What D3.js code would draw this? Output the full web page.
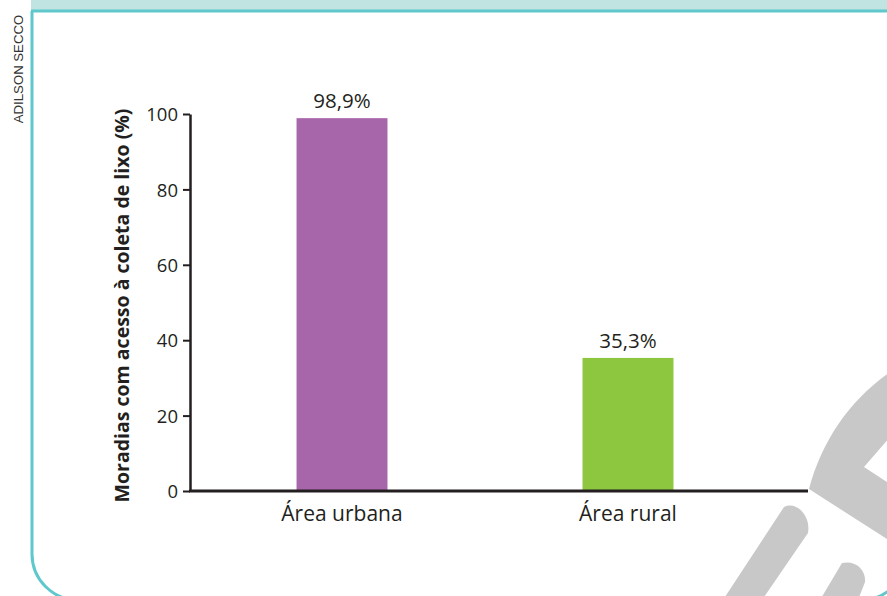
<!DOCTYPE html>
<html>
<head>
<meta charset="utf-8">
<script src="https://cdn.jsdelivr.net/npm/d3@7"></script>
<style>
  body { margin: 0; background: #fff; }
  svg { display: block; }
  text { font-family: "Open Sans", "Noto Sans", sans-serif; fill: #231f20; }
</style>
</head>
<body>
<div id="chart"></div>
<script>
const categories = ['Área urbana', 'Área rural']
const values = [98.9, 35.3]
const valueLabels = ['98,9%', '35,3%']
const barColors = ['#a866aa', '#8dc63f']
const yTicks = [0, 20, 40, 60, 80, 100]
const yTitle = 'Moradias com acesso à coleta de lixo (%)'
const credit = 'ADILSON SECCO'

const width = 887
const height = 596
const margin = {top: 114, left: 190, right: 79, bottom: 105}
const plotH = height - margin.top - margin.bottom

const svg = d3.select('#chart').append('svg')
  .attr('width', width)
  .attr('height', height)

// frame of the page
svg.append('rect')
  .attr('x', 31).attr('y', 0)
  .attr('width', width - 31).attr('height', 11)
  .style('fill', '#c0e4e1')
svg.append('path')
  .attr('d', 'M32,11 L32,554 A46,46 0 0 0 78,600 L861,600 A46,46 0 0 0 907,554 L907,11')
  .style('fill', 'none')
  .style('stroke', '#5ec8cc')
  .style('stroke-width', 3)
svg.append('line')
  .attr('x1', 31).attr('x2', width)
  .attr('y1', 11).attr('y2', 11)
  .style('stroke', '#5ec8cc')
  .style('stroke-width', 3)

// gray watermark in the corner
const wm = svg.append('g').style('fill', '#c8c8c8')
wm.append('path').attr('d', 'M809,489 C822,440 850,400 890,372 L890,437 L864,467 L890,484 L890,541 Z')
wm.append('path').attr('d', 'M723,600 L784,507 C796,501 811,515 808,533 L762,600 Z')
wm.append('path').attr('d', 'M820,600 L842,563 C856,560 866,570 865,582 L858,600 Z')

// credit
svg.append('text')
  .attr('transform', 'translate(22.5,69) rotate(-90)')
  .attr('text-anchor', 'middle')
  .style('font-family', '"Liberation Sans", Arial, sans-serif')
  .style('font-size', '13.2px')
  .style('fill', '#333')
  .text(credit)

const g = svg.append('g')
  .attr('transform', `translate(${margin.left},${margin.top})`)

const x = d3.scaleBand()
  .domain(categories)
  .range([-5, 595])
  .paddingInner(0.682)
  .paddingOuter(0.39)

const y = d3.scaleLinear()
  .domain([0, 100])
  .range([plotH, 0])

g.selectAll('.bar')
  .data(values)
  .enter()
  .append('rect')
  .classed('bar', true)
  .attr('x', (d, i) => x(categories[i]))
  .attr('width', x.bandwidth())
  .attr('y', d => y(d))
  .attr('height', d => y(0) - y(d))
  .style('fill', (d, i) => barColors[i])

g.selectAll('.val')
  .data(values)
  .enter()
  .append('text')
  .classed('val', true)
  .attr('x', (d, i) => x(categories[i]) + x.bandwidth() / 2)
  .attr('y', d => y(d) - 10)
  .attr('text-anchor', 'middle')
  .style('font-size', '20.5px')
  .text((d, i) => valueLabels[i])

// y axis
const yAxis = g.append('g')
  .call(d3.axisLeft(y).tickValues(yTicks).tickSize(7).tickSizeOuter(0).tickPadding(5))
yAxis.select('.domain').style('stroke', '#231f20').style('stroke-width', 2.5)
yAxis.selectAll('line').style('stroke', '#231f20').style('stroke-width', 2)
yAxis.selectAll('text')
  .style('font-size', '18.5px')
  .style('font-family', '"Open Sans", "Noto Sans", sans-serif')
  .style('fill', '#231f20')
  .attr('dy', '0.36em')

// x axis
g.append('line')
  .attr('x1', -1).attr('x2', 618)
  .attr('y1', y(0)).attr('y2', y(0))
  .style('stroke', '#231f20')
  .style('stroke-width', 3)

g.selectAll('.cat')
  .data(categories)
  .enter()
  .append('text')
  .classed('cat', true)
  .attr('x', d => x(d) + x.bandwidth() / 2)
  .attr('y', y(0) + 30)
  .attr('text-anchor', 'middle')
  .style('font-size', '21px')
  .text(d => d)

// y title
svg.append('text')
  .attr('transform', `translate(129,${margin.top + plotH / 2 + 3}) rotate(-90)`)
  .attr('text-anchor', 'middle')
  .style('font-size', '19.5px')
  .style('font-weight', 'bold')
  .text(yTitle)
</script>
</body>
</html>
